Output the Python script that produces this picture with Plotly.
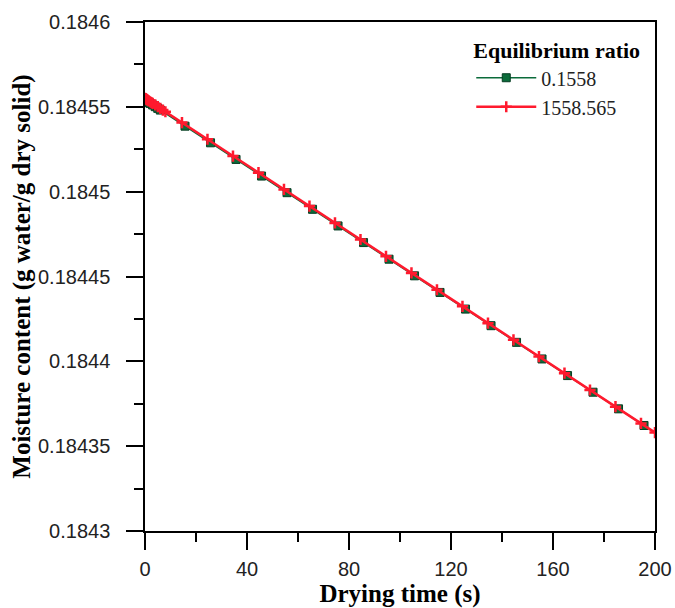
import plotly.graph_objects as go

# Series 1: equilibrium ratio 0.1558
t_green = [0, 0.5, 1, 1.5, 2, 3, 4, 5, 6, 15.7, 25.7, 35.7, 45.7, 55.7, 65.7, 75.7,
           85.7, 95.7, 105.7, 115.7, 125.7, 135.7, 145.7, 155.7, 165.7, 175.7, 185.7, 195.7]
m_green = [0.1845540, 0.1845535, 0.1845530, 0.1845525, 0.1845520, 0.1845511, 0.1845501,
           0.1845491, 0.1845481, 0.1845386, 0.1845288, 0.1845190, 0.1845092, 0.1844994,
           0.1844896, 0.1844798, 0.1844700, 0.1844602, 0.1844504, 0.1844406, 0.1844308,
           0.1844210, 0.1844112, 0.1844014, 0.1843916, 0.1843818, 0.1843720, 0.1843622]

# Series 2: equilibrium ratio 1558.565
t_red = [0, 0.25, 0.5, 0.75, 1, 1.5, 2, 2.5, 3, 4, 5, 6, 7, 8, 14.5, 24.5, 34.5, 44.5,
         54.5, 64.5, 74.5, 84.5, 94.5, 104.5, 114.5, 124.5, 134.5, 144.5, 154.5, 164.5,
         174.5, 184.5, 194.5, 200]
m_red = [0.1845550, 0.1845548, 0.1845545, 0.1845543, 0.1845540, 0.1845535, 0.1845530,
         0.1845525, 0.1845520, 0.1845511, 0.1845501, 0.1845491, 0.1845481, 0.1845471,
         0.1845407, 0.1845309, 0.1845210, 0.1845112, 0.1845013, 0.1844915, 0.1844816,
         0.1844718, 0.1844619, 0.1844521, 0.1844422, 0.1844324, 0.1844225, 0.1844127,
         0.1844028, 0.1843930, 0.1843831, 0.1843733, 0.1843634, 0.1843580]

y_tickvals = [0.1843, 0.18435, 0.1844, 0.18445, 0.1845, 0.18455, 0.1846]
y_ticktext = ["0.1843", "0.18435", "0.1844", "0.18445", "0.1845", "0.18455", "0.1846"]
x_tickvals = [0, 40, 80, 120, 160, 200]

GREEN = "#0b6b3a"
RED = "#ff1a2e"

fig = go.Figure()
fig.add_trace(go.Scatter(
    x=t_green, y=m_green, name="0.1558", mode="lines+markers",
    line=dict(color=GREEN, width=1.5),
    marker=dict(symbol="square", size=8, color=GREEN, line=dict(color="#063d22", width=1)),
))
fig.add_trace(go.Scatter(
    x=t_red, y=m_red, name="1558.565", mode="lines+markers",
    line=dict(color=RED, width=2.5),
    marker=dict(symbol="cross-thin", size=8, color=RED, line=dict(color=RED, width=2.5)),
))

axis_common = dict(
    showline=True, linecolor="black", linewidth=1.5, mirror=True,
    showgrid=False, zeroline=False, automargin=False,
    ticks="outside", ticklen=17, tickwidth=1.5, tickcolor="black",
    tickfont=dict(family="Liberation Sans, Arial, sans-serif", size=20, color="#222"),
)

fig.update_xaxes(
    range=[0, 200], tickvals=x_tickvals, ticklabelstandoff=2,
    minor=dict(dtick=20, tick0=0, ticks="outside", ticklen=9, tickwidth=1.5, tickcolor="black"),
    title=dict(text="<b>Drying time (s)</b>", standoff=0,
               font=dict(family="Liberation Serif, Times New Roman, serif", size=25, color="black")),
    **axis_common,
)
fig.update_yaxes(
    range=[0.1843, 0.1846], tickvals=y_tickvals, ticktext=y_ticktext, ticklabelstandoff=12,
    minor=dict(dtick=0.000025, tick0=0.1843, ticks="outside", ticklen=9, tickwidth=1.5, tickcolor="black"),
    title=dict(text="<b>Moisture content (g water/g dry solid)</b>", standoff=0,
               font=dict(family="Liberation Serif, Times New Roman, serif", size=25, color="black")),
    **axis_common,
)

fig.update_layout(
    width=675, height=608,
    margin=dict(l=145, r=20, t=22, b=77),
    plot_bgcolor="white", paper_bgcolor="white",
    legend=dict(
        x=0.975, y=0.985, xanchor="right", yanchor="top",
        bgcolor="rgba(0,0,0,0)",
        title=dict(text="<b>Equilibrium ratio</b>",
                   font=dict(family="Liberation Serif, Times New Roman, serif", size=22, color="black")),
        font=dict(family="Liberation Serif, Times New Roman, serif", size=20, color="#222"),
        itemwidth=60, tracegroupgap=0,
    ),
)

# remove the default page margin so the 675x608 figure fills the window without scrollbars
fig.write_html(
    "out.html",
    config={"displayModeBar": False},
    post_script="document.body.style.margin='0';document.body.style.overflow='hidden';",
)
